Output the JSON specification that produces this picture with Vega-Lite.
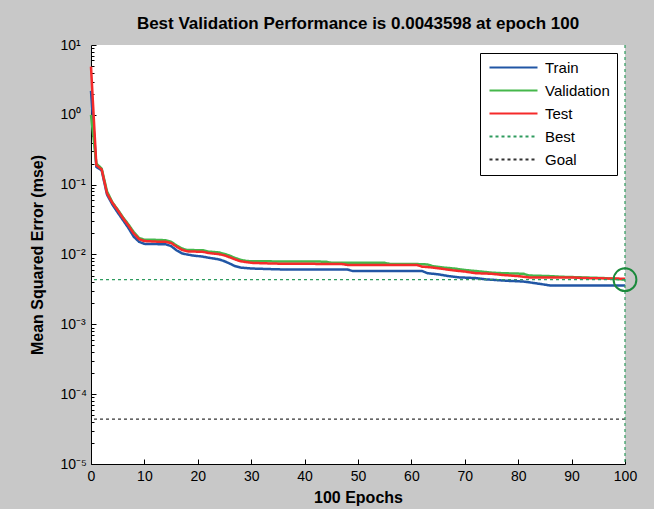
{
  "$schema": "https://vega.github.io/schema/vega-lite/v6.json",
  "width": 534,
  "height": 419,
  "autosize": {"type": "none"},
  "padding": {"left": 91, "top": 45, "right": 29, "bottom": 45},
  "background": "#c8c8c8",
  "config": {
    "view": {"fill": "white", "stroke": null},
    "font": "Liberation Sans"
  },
  "title": {
    "text": "Best Validation Performance is 0.0043598 at epoch 100",
    "fontSize": 17,
    "fontWeight": "bold",
    "font": "Liberation Sans",
    "color": "black",
    "anchor": "middle",
    "baseline": "alphabetic",
    "offset": 10,
    "dy": 18
  },
  "datasets": {
    "curves": [
      {"series": "Train", "epoch": 0, "mse": 2.2},
      {"series": "Train", "epoch": 1, "mse": 0.18},
      {"series": "Train", "epoch": 2, "mse": 0.16},
      {"series": "Train", "epoch": 3, "mse": 0.072},
      {"series": "Train", "epoch": 4, "mse": 0.052},
      {"series": "Train", "epoch": 5, "mse": 0.04},
      {"series": "Train", "epoch": 6, "mse": 0.031},
      {"series": "Train", "epoch": 7, "mse": 0.024},
      {"series": "Train", "epoch": 8, "mse": 0.018},
      {"series": "Train", "epoch": 9, "mse": 0.0152},
      {"series": "Train", "epoch": 10, "mse": 0.0142},
      {"series": "Train", "epoch": 14, "mse": 0.014},
      {"series": "Train", "epoch": 15, "mse": 0.0132},
      {"series": "Train", "epoch": 16, "mse": 0.0115},
      {"series": "Train", "epoch": 17, "mse": 0.0104},
      {"series": "Train", "epoch": 18, "mse": 0.01},
      {"series": "Train", "epoch": 19, "mse": 0.0097},
      {"series": "Train", "epoch": 21, "mse": 0.0093},
      {"series": "Train", "epoch": 22, "mse": 0.009},
      {"series": "Train", "epoch": 24, "mse": 0.0085},
      {"series": "Train", "epoch": 25, "mse": 0.008},
      {"series": "Train", "epoch": 26, "mse": 0.0074},
      {"series": "Train", "epoch": 27, "mse": 0.0068},
      {"series": "Train", "epoch": 28, "mse": 0.0065},
      {"series": "Train", "epoch": 30, "mse": 0.0063},
      {"series": "Train", "epoch": 33, "mse": 0.0062},
      {"series": "Train", "epoch": 36, "mse": 0.0061},
      {"series": "Train", "epoch": 48, "mse": 0.0061},
      {"series": "Train", "epoch": 49, "mse": 0.0058},
      {"series": "Train", "epoch": 62, "mse": 0.0058},
      {"series": "Train", "epoch": 63, "mse": 0.0054},
      {"series": "Train", "epoch": 65, "mse": 0.0052},
      {"series": "Train", "epoch": 67, "mse": 0.0049},
      {"series": "Train", "epoch": 69, "mse": 0.0047},
      {"series": "Train", "epoch": 72, "mse": 0.0046},
      {"series": "Train", "epoch": 74, "mse": 0.0044},
      {"series": "Train", "epoch": 76, "mse": 0.0043},
      {"series": "Train", "epoch": 78, "mse": 0.0042},
      {"series": "Train", "epoch": 81, "mse": 0.0041},
      {"series": "Train", "epoch": 82, "mse": 0.004},
      {"series": "Train", "epoch": 84, "mse": 0.0038},
      {"series": "Train", "epoch": 85, "mse": 0.0037},
      {"series": "Train", "epoch": 86, "mse": 0.0036},
      {"series": "Train", "epoch": 100, "mse": 0.0036},
      {"series": "Validation", "epoch": 0, "mse": 1.0},
      {"series": "Validation", "epoch": 1, "mse": 0.2},
      {"series": "Validation", "epoch": 2, "mse": 0.17},
      {"series": "Validation", "epoch": 3, "mse": 0.08},
      {"series": "Validation", "epoch": 4, "mse": 0.056},
      {"series": "Validation", "epoch": 5, "mse": 0.044},
      {"series": "Validation", "epoch": 6, "mse": 0.034},
      {"series": "Validation", "epoch": 7, "mse": 0.027},
      {"series": "Validation", "epoch": 8, "mse": 0.021},
      {"series": "Validation", "epoch": 9, "mse": 0.0172},
      {"series": "Validation", "epoch": 10, "mse": 0.0163},
      {"series": "Validation", "epoch": 12, "mse": 0.0162},
      {"series": "Validation", "epoch": 14, "mse": 0.016},
      {"series": "Validation", "epoch": 15, "mse": 0.0152},
      {"series": "Validation", "epoch": 16, "mse": 0.0135},
      {"series": "Validation", "epoch": 17, "mse": 0.0122},
      {"series": "Validation", "epoch": 18, "mse": 0.0116},
      {"series": "Validation", "epoch": 21, "mse": 0.0115},
      {"series": "Validation", "epoch": 22, "mse": 0.011},
      {"series": "Validation", "epoch": 24, "mse": 0.0107},
      {"series": "Validation", "epoch": 25, "mse": 0.0102},
      {"series": "Validation", "epoch": 26, "mse": 0.0096},
      {"series": "Validation", "epoch": 27, "mse": 0.0089},
      {"series": "Validation", "epoch": 28, "mse": 0.0084},
      {"series": "Validation", "epoch": 29, "mse": 0.0081},
      {"series": "Validation", "epoch": 30, "mse": 0.008},
      {"series": "Validation", "epoch": 44, "mse": 0.0079},
      {"series": "Validation", "epoch": 45, "mse": 0.0076},
      {"series": "Validation", "epoch": 55, "mse": 0.0076},
      {"series": "Validation", "epoch": 56, "mse": 0.0073},
      {"series": "Validation", "epoch": 61, "mse": 0.0073},
      {"series": "Validation", "epoch": 63, "mse": 0.0072},
      {"series": "Validation", "epoch": 64, "mse": 0.0068},
      {"series": "Validation", "epoch": 66, "mse": 0.0065},
      {"series": "Validation", "epoch": 68, "mse": 0.0063},
      {"series": "Validation", "epoch": 70, "mse": 0.006},
      {"series": "Validation", "epoch": 72, "mse": 0.0058},
      {"series": "Validation", "epoch": 75, "mse": 0.0055},
      {"series": "Validation", "epoch": 77, "mse": 0.0054},
      {"series": "Validation", "epoch": 81, "mse": 0.0053},
      {"series": "Validation", "epoch": 82, "mse": 0.005},
      {"series": "Validation", "epoch": 86, "mse": 0.0049},
      {"series": "Validation", "epoch": 88, "mse": 0.0048},
      {"series": "Validation", "epoch": 92, "mse": 0.0047},
      {"series": "Validation", "epoch": 96, "mse": 0.0046},
      {"series": "Validation", "epoch": 100, "mse": 0.0043598},
      {"series": "Test", "epoch": 0, "mse": 4.9},
      {"series": "Test", "epoch": 1, "mse": 0.19},
      {"series": "Test", "epoch": 2, "mse": 0.165},
      {"series": "Test", "epoch": 3, "mse": 0.075},
      {"series": "Test", "epoch": 4, "mse": 0.055},
      {"series": "Test", "epoch": 5, "mse": 0.043},
      {"series": "Test", "epoch": 6, "mse": 0.033},
      {"series": "Test", "epoch": 7, "mse": 0.026},
      {"series": "Test", "epoch": 8, "mse": 0.02},
      {"series": "Test", "epoch": 9, "mse": 0.0166},
      {"series": "Test", "epoch": 10, "mse": 0.0156},
      {"series": "Test", "epoch": 12, "mse": 0.0153},
      {"series": "Test", "epoch": 14, "mse": 0.0152},
      {"series": "Test", "epoch": 15, "mse": 0.0146},
      {"series": "Test", "epoch": 16, "mse": 0.013},
      {"series": "Test", "epoch": 17, "mse": 0.0117},
      {"series": "Test", "epoch": 18, "mse": 0.0111},
      {"series": "Test", "epoch": 21, "mse": 0.0109},
      {"series": "Test", "epoch": 22, "mse": 0.0105},
      {"series": "Test", "epoch": 23, "mse": 0.0103},
      {"series": "Test", "epoch": 24, "mse": 0.0101},
      {"series": "Test", "epoch": 25, "mse": 0.0097},
      {"series": "Test", "epoch": 26, "mse": 0.0091},
      {"series": "Test", "epoch": 27, "mse": 0.0085},
      {"series": "Test", "epoch": 28, "mse": 0.008},
      {"series": "Test", "epoch": 29, "mse": 0.0078},
      {"series": "Test", "epoch": 30, "mse": 0.0076},
      {"series": "Test", "epoch": 32, "mse": 0.0075},
      {"series": "Test", "epoch": 35, "mse": 0.0074},
      {"series": "Test", "epoch": 47, "mse": 0.0073},
      {"series": "Test", "epoch": 48, "mse": 0.0071},
      {"series": "Test", "epoch": 61, "mse": 0.0071},
      {"series": "Test", "epoch": 62, "mse": 0.0067},
      {"series": "Test", "epoch": 64, "mse": 0.0065},
      {"series": "Test", "epoch": 66, "mse": 0.0062},
      {"series": "Test", "epoch": 68, "mse": 0.0059},
      {"series": "Test", "epoch": 70, "mse": 0.0057},
      {"series": "Test", "epoch": 72, "mse": 0.0054},
      {"series": "Test", "epoch": 75, "mse": 0.0053},
      {"series": "Test", "epoch": 77, "mse": 0.0051},
      {"series": "Test", "epoch": 80, "mse": 0.0049},
      {"series": "Test", "epoch": 82, "mse": 0.0047},
      {"series": "Test", "epoch": 90, "mse": 0.0047},
      {"series": "Test", "epoch": 92, "mse": 0.0046},
      {"series": "Test", "epoch": 100, "mse": 0.0045}
    ],
    "refs": [
      {"series": "Best", "mse": 0.0043598},
      {"series": "Goal", "mse": 0.000044}
    ],
    "bestpoint": [
      {"epoch": 100, "mse": 0.0043598}
    ]
  },
  "layer": [
    {
      "data": {"name": "curves"},
      "transform": [{"filter": "datum.series === 'Train'"}],
      "mark": {"type": "line", "strokeWidth": 2.5},
      "encoding": {
        "x": {
          "field": "epoch", "type": "quantitative",
          "scale": {"domain": [0, 100], "nice": false, "zero": false},
          "axis": {
            "values": [0, 10, 20, 30, 40, 50, 60, 70, 80, 90, 100],
            "title": "100 Epochs",
            "titleFontSize": 16, "titleFontWeight": "bold", "titleColor": "black", "titlePadding": 6,
            "labelFontSize": 14, "labelColor": "black", "labelPadding": 10, "labelFlush": false,
            "tickSize": -5, "tickColor": "black", "domainColor": "black", "grid": false
          }
        },
        "y": {
          "field": "mse", "type": "quantitative",
          "scale": {"type": "log", "domain": [0.00001, 10], "nice": false},
          "axis": {
            "values": [0.00001, 0.00002, 0.00003, 0.00004, 0.00005, 0.00006, 0.00007, 0.00008, 0.00009,
                       0.0001, 0.0002, 0.0003, 0.0004, 0.0005, 0.0006, 0.0007, 0.0008, 0.0009,
                       0.001, 0.002, 0.003, 0.004, 0.005, 0.006, 0.007, 0.008, 0.009,
                       0.01, 0.02, 0.03, 0.04, 0.05, 0.06, 0.07, 0.08, 0.09,
                       0.1, 0.2, 0.3, 0.4, 0.5, 0.6, 0.7, 0.8, 0.9,
                       1, 2, 3, 4, 5, 6, 7, 8, 9, 10],
            "labelExpr": "abs(log(datum.value)/LN10 - round(log(datum.value)/LN10)) < 0.001 ? '10' + ['⁻⁵','⁻⁴','⁻³','⁻²','⁻¹','⁰','¹'][round(log(datum.value)/LN10) + 5] : ''",
            "labelAlign": "left",
            "labelBaseline": "middle",
            "labelPadding": 36,
            "labelFontSize": 14,
            "labelColor": "black",
            "labelOverlap": false,
            "labelFlush": false,
            "tickSize": {"condition": {"test": "abs(log(datum.value)/LN10 - round(log(datum.value)/LN10)) < 0.001", "value": -5}, "value": -3},
            "tickColor": "black",
            "domainColor": "black",
            "grid": false,
            "title": "Mean Squared Error  (mse)",
            "titleFontSize": 16, "titleFontWeight": "bold", "titleColor": "black", "titlePadding": 13
          }
        },
        "color": {
          "field": "series", "type": "nominal",
          "scale": {"domain": ["Train", "Validation", "Test", "Best", "Goal"],
                    "range": ["#2156a5", "#45b74b", "#f52a2a", "#2e9b5e", "#333333"]},
          "legend": {
            "title": null, "orient": "top-right", "offset": 8,
            "strokeColor": "black", "fillColor": "white", "padding": 7,
            "labelFontSize": 15, "labelColor": "black", "labelFont": "Liberation Sans",
            "symbolType": "M-1,0H8.6", "symbolSize": 100, "symbolStrokeWidth": 2,
            "rowPadding": 7, "labelOffset": 43
          }
        },
        "strokeDash": {
          "field": "series", "type": "nominal",
          "scale": {"domain": ["Train", "Validation", "Test", "Best", "Goal"],
                    "range": [[1, 0], [1, 0], [1, 0], [3, 3], [3, 3]]},
          "legend": {
            "title": null, "orient": "top-right", "offset": 8,
            "strokeColor": "black", "fillColor": "white", "padding": 7,
            "labelFontSize": 15, "labelColor": "black", "labelFont": "Liberation Sans",
            "symbolType": "M-1,0H8.6", "symbolSize": 100, "symbolStrokeWidth": 2,
            "rowPadding": 7, "labelOffset": 43
          }
        }
      }
    },
    {
      "data": {"name": "curves"},
      "transform": [{"filter": "datum.series === 'Validation'"}],
      "mark": {"type": "line", "strokeWidth": 2.5},
      "encoding": {
        "x": {"field": "epoch", "type": "quantitative"},
        "y": {"field": "mse", "type": "quantitative"},
        "color": {"field": "series", "type": "nominal"},
        "strokeDash": {"field": "series", "type": "nominal"}
      }
    },
    {
      "data": {"name": "curves"},
      "transform": [{"filter": "datum.series === 'Test'"}],
      "mark": {"type": "line", "strokeWidth": 2.5},
      "encoding": {
        "x": {"field": "epoch", "type": "quantitative"},
        "y": {"field": "mse", "type": "quantitative"},
        "color": {"field": "series", "type": "nominal"},
        "strokeDash": {"field": "series", "type": "nominal"}
      }
    },
    {
      "data": {"name": "refs"},
      "mark": {"type": "rule", "strokeWidth": 1.2},
      "encoding": {
        "y": {"field": "mse", "type": "quantitative"},
        "color": {"field": "series", "type": "nominal"},
        "strokeDash": {"field": "series", "type": "nominal"}
      }
    },
    {
      "data": {"name": "bestpoint"},
      "mark": {"type": "rule", "strokeWidth": 1.2, "color": "#2e9b5e", "strokeDash": [3, 3]},
      "encoding": {
        "x": {"field": "epoch", "type": "quantitative"}
      }
    },
    {
      "data": {"name": "bestpoint"},
      "mark": {"type": "point", "shape": "circle", "filled": false, "size": 520, "strokeWidth": 2, "color": "#1b8a3c", "opacity": 1},
      "encoding": {
        "x": {"field": "epoch", "type": "quantitative"},
        "y": {"field": "mse", "type": "quantitative"}
      }
    }
  ]
}
